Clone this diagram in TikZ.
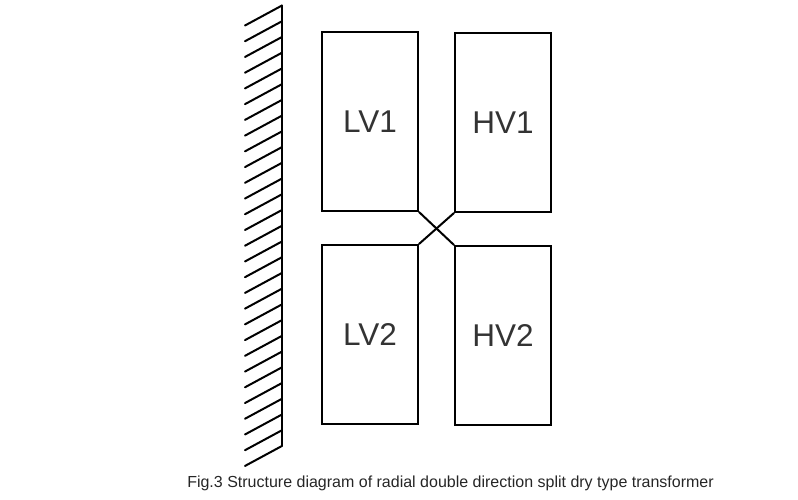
\documentclass[tikz,border=0pt]{standalone}
\usepackage{fontspec}
\setmainfont{Liberation Sans}
\usetikzlibrary{calc}
\tikzset{
  coil/.style={draw=black,line width=2pt,minimum width=96pt,minimum height=179pt,inner sep=0pt,text=black!80,font=\fontsize{31.5}{36}\selectfont},
  link/.style={draw=black,line width=2pt,line cap=round},
  hatchline/.style={draw=black,line width=2pt,line cap=round},
  caption/.style={inner sep=0pt,text=black!85,font=\fontsize{16}{18}\selectfont}
}
\begin{document}
\begin{tikzpicture}[x=1pt,y=-1pt]
\useasboundingbox (0,0) rectangle (798,500);
\node[coil] (lv1) at (370,121.5) {LV1};
\node[coil] (hv1) at (503,122.5) {HV1};
\node[coil] (lv2) at (370,334.5) {LV2};
\node[coil] (hv2) at (503,335.5) {HV2};
\draw[link] (lv1.south east) -- (hv2.north west);
\draw[link] (hv1.south west) -- (lv2.north east);
\coordinate (walltop) at (282,5.5);
\coordinate (wallbot) at (282,446);
\draw[hatchline] (walltop) -- (wallbot);
\foreach \i in {0,...,28}{
  \draw[hatchline] ($(walltop)+(0,{\i*15.73})$) -- ++(-37,20);
}
\node[caption] (cap) at (450.5,483) {Fig.3 Structure diagram of radial double direction split dry type transformer};
\end{tikzpicture}
\end{document}
